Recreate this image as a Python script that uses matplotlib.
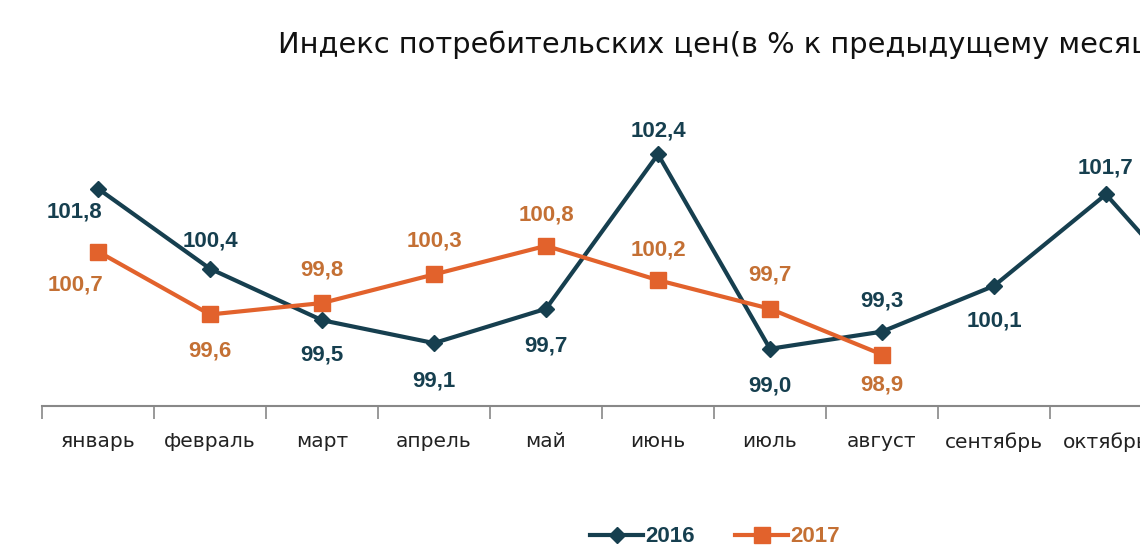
import matplotlib
matplotlib.use("Agg")
import matplotlib.pyplot as plt
from matplotlib.ticker import FixedLocator

# данные
months = ["январь", "февраль", "март", "апрель", "май", "июнь",
          "июль", "август", "сентябрь", "октябрь", "ноябрь", "декабрь"]
cpi_2016 = [101.8, 100.4, 99.5, 99.1, 99.7, 102.4, 99.0, 99.3, 100.1, 101.7, 99.5, 100.0]
cpi_2017 = [100.7, 99.6, 99.8, 100.3, 100.8, 100.2, 99.7, 98.9]

# смещения подписей (в пунктах)
off_2016 = [(-17, -17), (0, 20), (0, -25), (0, -27), (0, -27), (0, 17),
            (0, -27), (0, 22), (0, -25), (0, 19), (0, -25), (0, 20)]
off_2017 = [(-16, -24), (0, -26), (0, 24), (0, 24), (0, 22), (0, 22), (0, 24), (0, -22)]

c16 = "#163f4f"
c17 = "#e2622c"
c17_txt = "#c47034"

fig = plt.figure(figsize=(11.4, 5.6), dpi=100)
# область графика шире рисунка - правая часть обрезана, как в оригинале
ax = fig.add_axes([42 / 1140, 1 - 406 / 560, 1344 / 1140, (406 - 120) / 560])

x16 = list(range(len(cpi_2016)))
x17 = list(range(len(cpi_2017)))
ax.plot(x16, cpi_2016, color=c16, lw=3, marker="D", ms=8, clip_on=False, label="2016", zorder=3)
ax.plot(x17, cpi_2017, color=c17, lw=3, marker="s", ms=12, clip_on=False, label="2017", zorder=4)

for x, v, o in zip(x16, cpi_2016, off_2016):
    ax.annotate(f"{v:.1f}".replace(".", ","), (x, v), xytext=o, textcoords="offset points",
                ha="center", va="center", fontsize=16, fontweight="bold", color=c16,
                family="Liberation Sans")
for x, v, o in zip(x17, cpi_2017, off_2017):
    ax.annotate(f"{v:.1f}".replace(".", ","), (x, v), xytext=o, textcoords="offset points",
                ha="center", va="center", fontsize=16, fontweight="bold", color=c17_txt,
                family="Liberation Sans")

ax.set_xlim(-0.5, len(months) - 0.5)
ax.set_ylim(98, 103)
ax.set_xticks(range(len(months)))
ax.set_xticklabels(months, fontsize=14.5, color="#222222")
ax.xaxis.set_minor_locator(FixedLocator([i - 0.5 for i in range(len(months) + 1)]))
ax.tick_params(axis="x", which="major", length=0, pad=19)
ax.tick_params(axis="x", which="minor", length=9, width=1.2, color="#888888")
ax.set_yticks([])
for s in ["top", "right", "left"]:
    ax.spines[s].set_visible(False)
ax.spines["bottom"].set_color("#888888")
ax.spines["bottom"].set_linewidth(1.5)

fig.text(278 / 1140, 1 - 45 / 560, "Индекс потребительских цен(в % к предыдущему месяцу)",
         fontsize=20.8, ha="left", va="center", color="#111111")

leg = fig.legend(loc="center", bbox_to_anchor=(715 / 1140, 1 - 537 / 560), ncol=2,
                 frameon=False, handlelength=2.4, columnspacing=1.8, handletextpad=0.1,
                 prop={"family": "Liberation Sans", "weight": "bold", "size": 16})
for t, c in zip(leg.get_texts(), [c16, c17_txt]):
    t.set_color(c)

fig.savefig("out.png", dpi=100)
